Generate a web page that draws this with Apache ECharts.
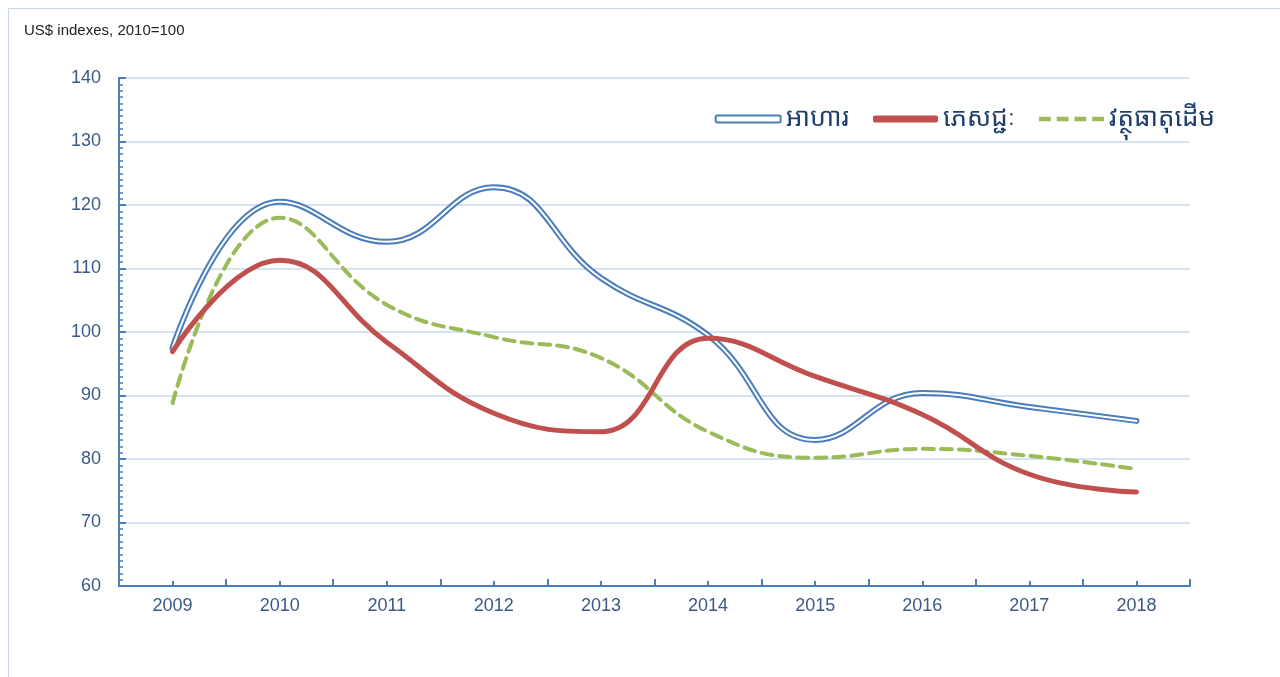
<!DOCTYPE html>
<html>
<head>
<meta charset="utf-8">
<script src="https://cdn.jsdelivr.net/npm/echarts@6/dist/echarts.min.js"></script>
<style>
  html, body { margin: 0; padding: 0; background: #fff; }
  #chart { width: 1280px; height: 677px; }
</style>
</head>
<body>
<div id="chart"></div>
<script>
// data
const years = ['2009', '2010', '2011', '2012', '2013', '2014', '2015', '2016', '2017', '2018'];
const food = [97.5, 120.5, 114.2, 122.8, 108.5, 99.5, 83, 90.4, 88.2, 86];
const beverages = [96.9, 111.3, 98.4, 87.2, 84.3, 99, 93, 87, 77.6, 74.8];
const rawMaterials = [88.8, 118, 104.3, 99.2, 95.9, 84.3, 80.2, 81.6, 80.5, 78.4];
const names = ['អាហារ', 'ភេសជ្ជៈ', 'វត្ថុធាតុដើម'];

const BLUE = '#4a7ebb';
const RED = '#c0504d';
const GREEN = '#9bbb59';
const numFont = '"Liberation Sans Narrow", "Liberation Sans", Arial, sans-serif';
const khFont = '"Noto Sans Khmer", "Khmer OS", "Noto Sans", sans-serif';

const chart = echarts.init(document.getElementById('chart'));
const option = {
    animation: false,
    backgroundColor: '#fff',
    graphic: [
        {
            type: 'rect',
            shape: { x: 8.5, y: 8.5, width: 1300, height: 700 },
            style: { fill: 'none', stroke: '#c9d6e8', lineWidth: 1 },
        },
        {
            type: 'text',
            left: 24,
            top: 23,
            style: { text: 'US$ indexes, 2010=100', font: '15px ' + numFont, fill: '#222' },
        },
    ],
    legend: {
        top: 99,
        right: 60,
        itemWidth: 65,
        itemHeight: 7,
        itemGap: 24,
        textStyle: { fontFamily: khFont, fontSize: 26, lineHeight: 30, color: '#1f3e6e' },
        data: [
            { name: names[0], icon: 'roundRect', itemStyle: { color: '#fff', borderColor: BLUE, borderWidth: 2 } },
            { name: names[1], icon: 'roundRect', itemStyle: { color: RED } },
            {
                name: names[2],
                icon: 'path://M0,0h10v4h-10z M15,0h10v4h-10z M30,0h10v4h-10z M45,0h10v4h-10z',
                itemStyle: { color: GREEN },
            },
        ],
    },
    grid: { left: 119, right: 90, top: 78, bottom: 91 },
    xAxis: [
        {
            type: 'category',
            data: years,
            axisLine: { lineStyle: { color: BLUE, width: 2 } },
            axisTick: { show: true, inside: true, length: 7, interval: 0, lineStyle: { color: BLUE, width: 2 } },
            axisLabel: { fontFamily: numFont, fontSize: 18, color: '#3b5a86', margin: 11 },
        },
        {
            type: 'category',
            data: years,
            position: 'bottom',
            axisLine: { show: false },
            axisTick: { show: true, inside: true, alignWithLabel: true, length: 5, interval: 0, lineStyle: { color: BLUE, width: 2 } },
            axisLabel: { show: false },
        },
    ],
    yAxis: {
        type: 'value',
        min: 60,
        max: 140,
        interval: 10,
        axisLine: { show: true, lineStyle: { color: BLUE, width: 2 } },
        axisTick: { show: true, inside: true, length: 7, lineStyle: { color: BLUE, width: 2 } },
        minorTick: { show: true, splitNumber: 10, length: 4, lineStyle: { color: BLUE, width: 1.5 } },
        axisLabel: { fontFamily: numFont, fontSize: 18, color: '#3b5a86', margin: 18 },
        splitLine: { lineStyle: { color: '#d5e3f4', width: 2 } },
    },
    series: [
        {
            name: names[0],
            type: 'line',
            data: food,
            smooth: 0.45,
            showSymbol: false,
            lineStyle: { color: BLUE, width: 6, cap: 'round' },
            itemStyle: { color: BLUE },
            z: 3,
        },
        {
            name: names[0],
            type: 'line',
            data: food,
            smooth: 0.45,
            showSymbol: false,
            lineStyle: { color: '#fff', width: 2, cap: 'round' },
            itemStyle: { color: '#fff' },
            z: 4,
        },
        {
            name: names[1],
            type: 'line',
            data: beverages,
            smooth: 0.45,
            showSymbol: false,
            lineStyle: { color: RED, width: 5, cap: 'round' },
            itemStyle: { color: RED },
            z: 5,
        },
        {
            name: names[2],
            type: 'line',
            data: rawMaterials,
            smooth: 0.45,
            showSymbol: false,
            lineStyle: { color: GREEN, width: 4, type: [11, 7], cap: 'round' },
            itemStyle: { color: GREEN },
            z: 2,
        },
    ],
};
chart.setOption(option);
window.addEventListener('resize', () => {
    chart.resize();
});
</script>
</body>
</html>
